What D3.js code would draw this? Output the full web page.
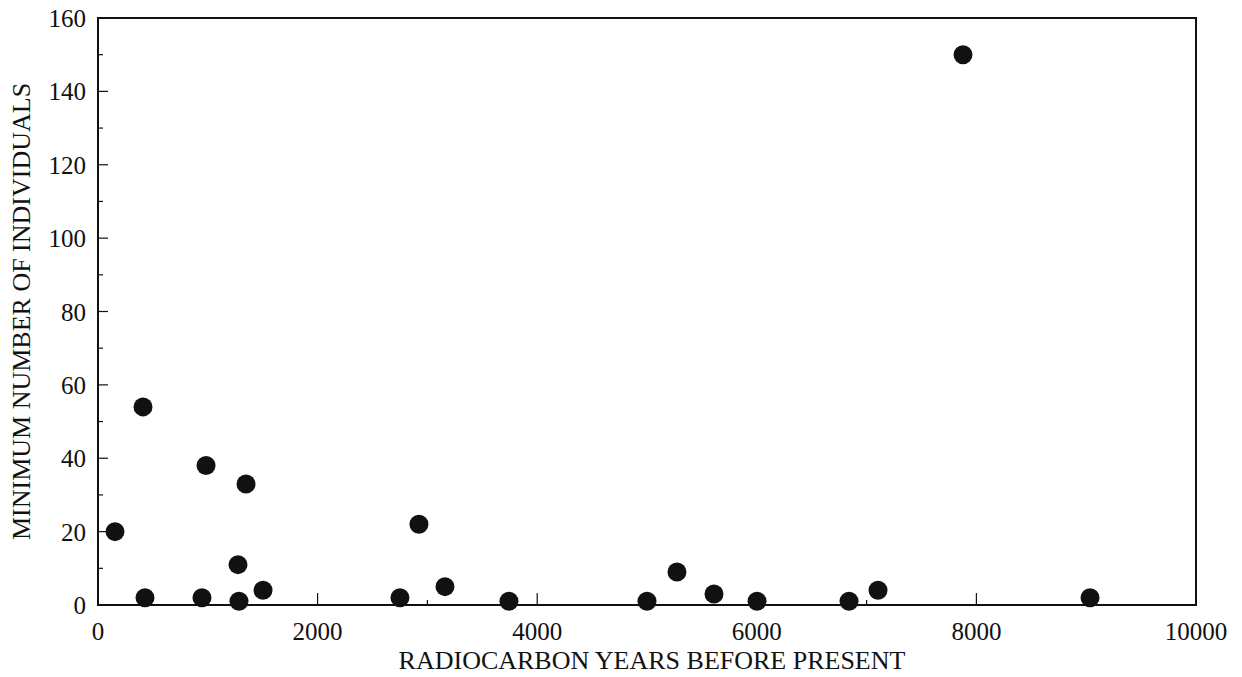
<!DOCTYPE html>
<html><head><meta charset="utf-8">
<script src="https://cdn.jsdelivr.net/npm/d3@7"></script>
<style>body{margin:0;background:#fff}svg{display:block}</style>
</head><body><svg id="c" width="1242" height="677"></svg>
<script>
const years = [155,410,428,947,984,1275,1284,1348,1503,2750,2923,3160,3743,5000,5273,5610,6002,6840,7104,7878,9035];
const mni   = [20,54,2,2,38,11,1,33,4,2,22,5,1,1,9,3,1,1,4,150,2];
const xTicks = [0,2000,4000,6000,8000,10000];
const yTicks = [0,20,40,60,80,100,120,140,160];
const xLabel = "RADIOCARBON YEARS BEFORE PRESENT";
const yLabel = "MINIMUM NUMBER OF INDIVIDUALS";

const FONT = "'Liberation Serif', 'Times New Roman', 'DejaVu Serif', serif";
const svg = d3.select("#c");
const m = {l:98, r:1196, t:18, b:605};
const x = d3.scaleLinear().domain([0,10000]).range([m.l,m.r]);
const y = d3.scaleLinear().domain([0,160]).range([m.b,m.t]);
const ink = "#111";

const g = svg.append("g").attr("stroke", ink).attr("stroke-width", 1.2);
d3.range(1000,10000,2000).forEach(v=>g.append("line").attr("x1",x(v)).attr("x2",x(v)).attr("y1",y(0)).attr("y2",y(0)-5));
d3.range(2000,10000,2000).forEach(v=>g.append("line").attr("x1",x(v)).attr("x2",x(v)).attr("y1",y(0)).attr("y2",y(0)-12));
d3.range(10,160,20).forEach(v=>g.append("line").attr("x1",x(0)).attr("x2",x(0)+5).attr("y1",y(v)).attr("y2",y(v)));
d3.range(20,160,20).forEach(v=>g.append("line").attr("x1",x(0)).attr("x2",x(0)+10).attr("y1",y(v)).attr("y2",y(v)));

svg.append("rect").attr("x",m.l).attr("y",m.t).attr("width",m.r-m.l).attr("height",m.b-m.t)
  .attr("fill","none").attr("stroke",ink).attr("stroke-width",2);

const txt = (sel, s) => sel.attr("font-family",FONT).attr("font-size",s).attr("fill",ink);

svg.append("g").selectAll("text").data(xTicks).join("text").call(txt,25)
  .attr("x",d=>x(d)).attr("y",y(0)+35).attr("text-anchor","middle").text(d=>d);
svg.append("g").selectAll("text").data(yTicks).join("text").call(txt,25)
  .attr("x",x(0)-12).attr("y",d=>y(d)+9).attr("text-anchor","end").text(d=>d);

svg.append("text").call(txt,26).attr("x",(m.l+m.r)/2+5).attr("y",y(0)+64).attr("text-anchor","middle").text(xLabel);
svg.append("text").call(txt,26).attr("transform",`translate(30,${(m.t+m.b)/2}) rotate(-90)`).attr("text-anchor","middle").text(yLabel);

svg.append("g").selectAll("circle").data(years.map((v,i)=>[v,mni[i]])).join("circle")
  .attr("cx",d=>x(d[0])).attr("cy",d=>y(d[1])).attr("r",9.5).attr("fill",ink);
</script></body></html>
